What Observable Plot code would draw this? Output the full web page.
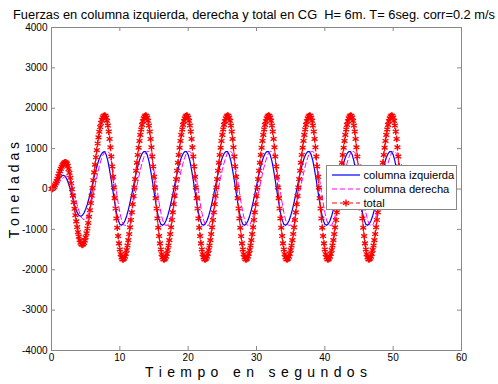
<!DOCTYPE html>
<html><head><meta charset="utf-8">
<script src="https://cdn.jsdelivr.net/npm/d3@7"></script>
<script src="https://cdn.jsdelivr.net/npm/@observablehq/plot@0.6"></script>
<style>
html,body{margin:0;padding:0;background:#fff;}
#wrap{position:relative;width:498px;height:384px;overflow:hidden;font-family:"Liberation Sans",Arial,sans-serif;}
#title{position:absolute;left:13px;top:7px;height:15px;line-height:15px;font-size:12.85px;white-space:pre;color:#000;}
#chart{position:absolute;left:0;top:22px;}
</style></head><body>
<div id="wrap"><div id="title">Fuerzas en columna izquierda, derecha y total en CG  H= 6m. T= 6seg. corr=0.2 m/s</div><div id="chart"></div></div>
<script>
// sampling of the series (seconds)
const t0 = 0;
const dtColumnas = 0.25;   // columna izquierda / derecha
const dtTotal = 0.125;     // total (one star per sample)

const izquierda = [
  0, 17, 64, 132, 208, 276, 323, 340, 315, 243, 131, -11, -168, -326, -467, -580, -652, -677, -657, -597, -502, -375, -223, -53, 126, 304, 474, 626, 753, 849, 908, 928,
  851, 696, 476, 214, -67, -340, -580, -764, -872, -899, -866, -787, -667, -512, -330, -128,
  80, 285, 476, 643, 779, 875, 927, 928, 851, 696, 476, 214, -67, -340, -580, -764, -872, -899, -866, -787, -667, -512, -330, -128,
  80, 285, 476, 643, 779, 875, 927, 928, 851, 696, 476, 214, -67, -340, -580, -764, -872, -899, -866, -787, -667, -512, -330, -128,
  80, 285, 476, 643, 779, 875, 927, 928, 851, 696, 476, 214, -67, -340, -580, -764, -872, -899, -866, -787, -667, -512, -330, -128,
  80, 285, 476, 643, 779, 875, 927, 928, 851, 696, 476, 214, -67, -340, -580, -764, -872, -899, -866, -787, -667, -512, -330, -128,
  80, 285, 476, 643, 779, 875, 927, 928, 851, 696, 476, 214, -67, -340, -580, -764, -872, -899, -866, -787, -667, -512, -330, -128,
  80, 285, 476, 643, 779, 875, 927, 928, 851, 696, 476, 214, -67, -340, -580, -764, -872, -899, -866, -787, -667, -512, -330, -128,
  80, 285, 476, 643, 779, 875, 927, 928, 851, 696, 476, 214, -67
];

const derecha = [
  0, 10, 37, 80, 132, 188, 240, 283, 310, 320, 294, 217, 98, -53, -220, -387, -538, -657, -734, -760, -735, -663, -547, -395, -215, -17, 187, 385, 565, 717, 833, 905,
  930, 930, 880, 700, 470, 214, -67, -340, -580, -764, -880, -900, -900, -800, -667, -512,
  -330, -128, 80, 285, 476, 643, 779, 890, 930, 930, 880, 700, 470, 214, -67, -340, -580, -764, -880, -900, -900, -800, -667, -512,
  -330, -128, 80, 285, 476, 643, 779, 890, 930, 930, 880, 700, 470, 214, -67, -340, -580, -764, -880, -900, -900, -800, -667, -512,
  -330, -128, 80, 285, 476, 643, 779, 890, 930, 930, 880, 700, 470, 214, -67, -340, -580, -764, -880, -900, -900, -800, -667, -512,
  -330, -128, 80, 285, 476, 643, 779, 890, 930, 930, 880, 700, 470, 214, -67, -340, -580, -764, -880, -900, -900, -800, -667, -512,
  -330, -128, 80, 285, 476, 643, 779, 890, 930, 930, 880, 700, 470, 214, -67, -340, -580, -764, -880, -900, -900, -800, -667, -512,
  -330, -128, 80, 285, 476, 643, 779, 890, 930, 930, 880, 700, 470, 214, -67, -340, -580, -764, -880, -900, -900, -800, -667, -512,
  -330, -128, 80, 285, 476, 643, 779, 890, 930, 930, 880, 700, 470
];

const total = [
  0, 6, 24, 53, 92, 140, 195, 256, 318, 382, 443, 500, 551, 594, 628, 650, 661,
  657, 629, 575, 497, 397, 278, 142, -6, -164, -326, -490, -649, -802, -943, -1069, -1177, -1264, -1328, -1367, -1380,
  -1368, -1334, -1276, -1197, -1097, -978, -841, -689, -524, -348, -164, 26, 219, 412, 602, 786, 962, 1127, 1279, 1416, 1535, 1635, 1714, 1772, 1806,
  1818, 1813, 1770, 1689, 1572, 1422, 1241, 1033, 804, 558, 301, 38, -226, -483, -729, -958, -1166, -1347, -1497, -1614, -1695, -1738, -1743, -1721, -1675, -1605, -1513, -1400, -1266, -1115, -948, -768, -577, -377,
  -171, 38, 246, 452, 652, 843, 1023, 1190, 1341, 1475, 1588, 1680, 1750, 1796, 1818, 1813, 1770, 1689, 1572, 1422, 1241, 1033, 804, 558, 301, 38, -226, -483, -729, -958, -1166, -1347, -1497, -1614, -1695, -1738, -1743, -1721, -1675, -1605, -1513, -1400, -1266, -1115, -948, -768, -577, -377,
  -171, 38, 246, 452, 652, 843, 1023, 1190, 1341, 1475, 1588, 1680, 1750, 1796, 1818, 1813, 1770, 1689, 1572, 1422, 1241, 1033, 804, 558, 301, 38, -226, -483, -729, -958, -1166, -1347, -1497, -1614, -1695, -1738, -1743, -1721, -1675, -1605, -1513, -1400, -1266, -1115, -948, -768, -577, -377,
  -171, 38, 246, 452, 652, 843, 1023, 1190, 1341, 1475, 1588, 1680, 1750, 1796, 1818, 1813, 1770, 1689, 1572, 1422, 1241, 1033, 804, 558, 301, 38, -226, -483, -729, -958, -1166, -1347, -1497, -1614, -1695, -1738, -1743, -1721, -1675, -1605, -1513, -1400, -1266, -1115, -948, -768, -577, -377,
  -171, 38, 246, 452, 652, 843, 1023, 1190, 1341, 1475, 1588, 1680, 1750, 1796, 1818, 1813, 1770, 1689, 1572, 1422, 1241, 1033, 804, 558, 301, 38, -226, -483, -729, -958, -1166, -1347, -1497, -1614, -1695, -1738, -1743, -1721, -1675, -1605, -1513, -1400, -1266, -1115, -948, -768, -577, -377,
  -171, 38, 246, 452, 652, 843, 1023, 1190, 1341, 1475, 1588, 1680, 1750, 1796, 1818, 1813, 1770, 1689, 1572, 1422, 1241, 1033, 804, 558, 301, 38, -226, -483, -729, -958, -1166, -1347, -1497, -1614, -1695, -1738, -1743, -1721, -1675, -1605, -1513, -1400, -1266, -1115, -948, -768, -577, -377,
  -171, 38, 246, 452, 652, 843, 1023, 1190, 1341, 1475, 1588, 1680, 1750, 1796, 1818, 1813, 1770, 1689, 1572, 1422, 1241, 1033, 804, 558, 301, 38, -226, -483, -729, -958, -1166, -1347, -1497, -1614, -1695, -1738, -1743, -1721, -1675, -1605, -1513, -1400, -1266, -1115, -948, -768, -577, -377,
  -171, 38, 246, 452, 652, 843, 1023, 1190, 1341, 1475, 1588, 1680, 1750, 1796, 1818, 1813, 1770, 1689, 1572, 1422, 1241, 1033, 804, 558, 301
];

const xTicks = [0, 10, 20, 30, 40, 50, 60];
const yTicks = [-4000, -3000, -2000, -1000, 0, 1000, 2000, 3000, 4000];
const legendLabels = ["columna izquierda", "columna derecha", "total"];
const xLabel = "T i e m p o   e n   s e g u n d o s";
const yLabel = "T o n e l a d a s";

const W = 498, H = 362, mT = 5, mB = 34, mL = 51, mR = 37;
const fh = H - mT - mB, fw = W - mL - mR;
const nc = Math.min(izquierda.length, derecha.length);
const colRows = d3.range(nc).map(i => ({t: t0 + i * dtColumnas, izq: izquierda[i], der: derecha[i]}));
const totRows = total.map((v, i) => ({t: t0 + i * dtTotal, tot: v}));

const FONT = '"Liberation Sans", Arial, sans-serif';
const AX = "#888";
const STAR_R = 3.2;
const STAR_W = 1.3;

const svg = Plot.plot({
  width: W, height: H,
  marginTop: mT, marginBottom: mB, marginLeft: mL, marginRight: mR,
  x: {domain: [0, 60]},
  y: {domain: [-4000, 4000]},
  style: {fontFamily: FONT, fontSize: "10px", color: "#000", background: "#fff", overflow: "visible"},
  marks: [
    Plot.line(colRows, {x: "t", y: "izq", stroke: "#0000ff", strokeWidth: 1.2}),
    Plot.line(colRows, {x: "t", y: "der", stroke: "#ff00ff", strokeWidth: 1, strokeDasharray: "5,3"}),
    Plot.line(totRows, {x: "t", y: "tot", stroke: "#ff0000", strokeWidth: 1, strokeDasharray: "5,3"}),
    Plot.dot(totRows, {x: "t", y: "tot", symbol: "asterisk", r: STAR_R, stroke: "#ff0000", strokeWidth: STAR_W}),
    Plot.frame({stroke: AX}),
    Plot.tickX(xTicks, {x: d => d, stroke: AX, insetBottom: fh - 4}),
    Plot.tickX(xTicks, {x: d => d, stroke: AX, insetTop: fh - 4}),
    Plot.tickY(yTicks, {y: d => d, stroke: AX, insetRight: fw - 4}),
    Plot.tickY(yTicks, {y: d => d, stroke: AX, insetLeft: fw - 4}),
    Plot.axisX(xTicks, {anchor: "bottom", tickSize: 0, tickPadding: 3, label: null, tickFormat: d => String(d)}),
    Plot.axisY(yTicks, {anchor: "left", tickSize: 0, tickPadding: 4, label: null, tickFormat: d => String(d)})
  ]
});

const s = d3.select(svg);

// axis titles
s.append("text")
  .attr("x", 256).attr("y", 350)
  .attr("text-anchor", "middle").attr("dominant-baseline", "central")
  .attr("font-family", FONT).attr("font-size", 14).attr("fill", "#000")
  .style("white-space", "pre")
  .attr("textLength", 222).attr("lengthAdjust", "spacing")
  .text(xLabel);

s.append("text")
  .attr("transform", "translate(14,168) rotate(-90)")
  .attr("text-anchor", "middle").attr("dominant-baseline", "central")
  .attr("font-family", FONT).attr("font-size", 14).attr("fill", "#000")
  .style("white-space", "pre")
  .text(yLabel);

// legend box
const leg = s.append("g").attr("text-anchor", "start");
leg.append("rect").attr("x", 326.5).attr("y", 143.5).attr("width", 130).attr("height", 44)
  .attr("fill", "#fff").attr("stroke", AX);
const styles = [
  {stroke: "#0000ff", dash: null, star: false, w: 1.2},
  {stroke: "#ff00ff", dash: "5,3", star: false, w: 1},
  {stroke: "#ff0000", dash: "5,3", star: true, w: 1}
];
const rowY = [153, 167, 181];
legendLabels.forEach((lab, i) => {
  const st = styles[i];
  const ln = leg.append("line").attr("x1", 332).attr("x2", 360).attr("y1", rowY[i]).attr("y2", rowY[i])
    .attr("stroke", st.stroke).attr("stroke-width", st.w);
  if (st.dash) ln.attr("stroke-dasharray", st.dash);
  if (st.star) {
    leg.append("path").attr("d", d3.symbol(d3.symbolAsterisk, Math.PI * STAR_R * STAR_R)())
      .attr("transform", `translate(346,${rowY[i]})`)
      .attr("fill", "none").attr("stroke", st.stroke).attr("stroke-width", STAR_W);
  }
  leg.append("text").attr("x", 363.5).attr("y", rowY[i])
    .attr("text-anchor", "start")
    .attr("dominant-baseline", "central")
    .attr("font-family", FONT).attr("font-size", 11.2).attr("fill", "#000")
    .text(lab);
});

document.getElementById("chart").appendChild(svg);
</script>
</body></html>
